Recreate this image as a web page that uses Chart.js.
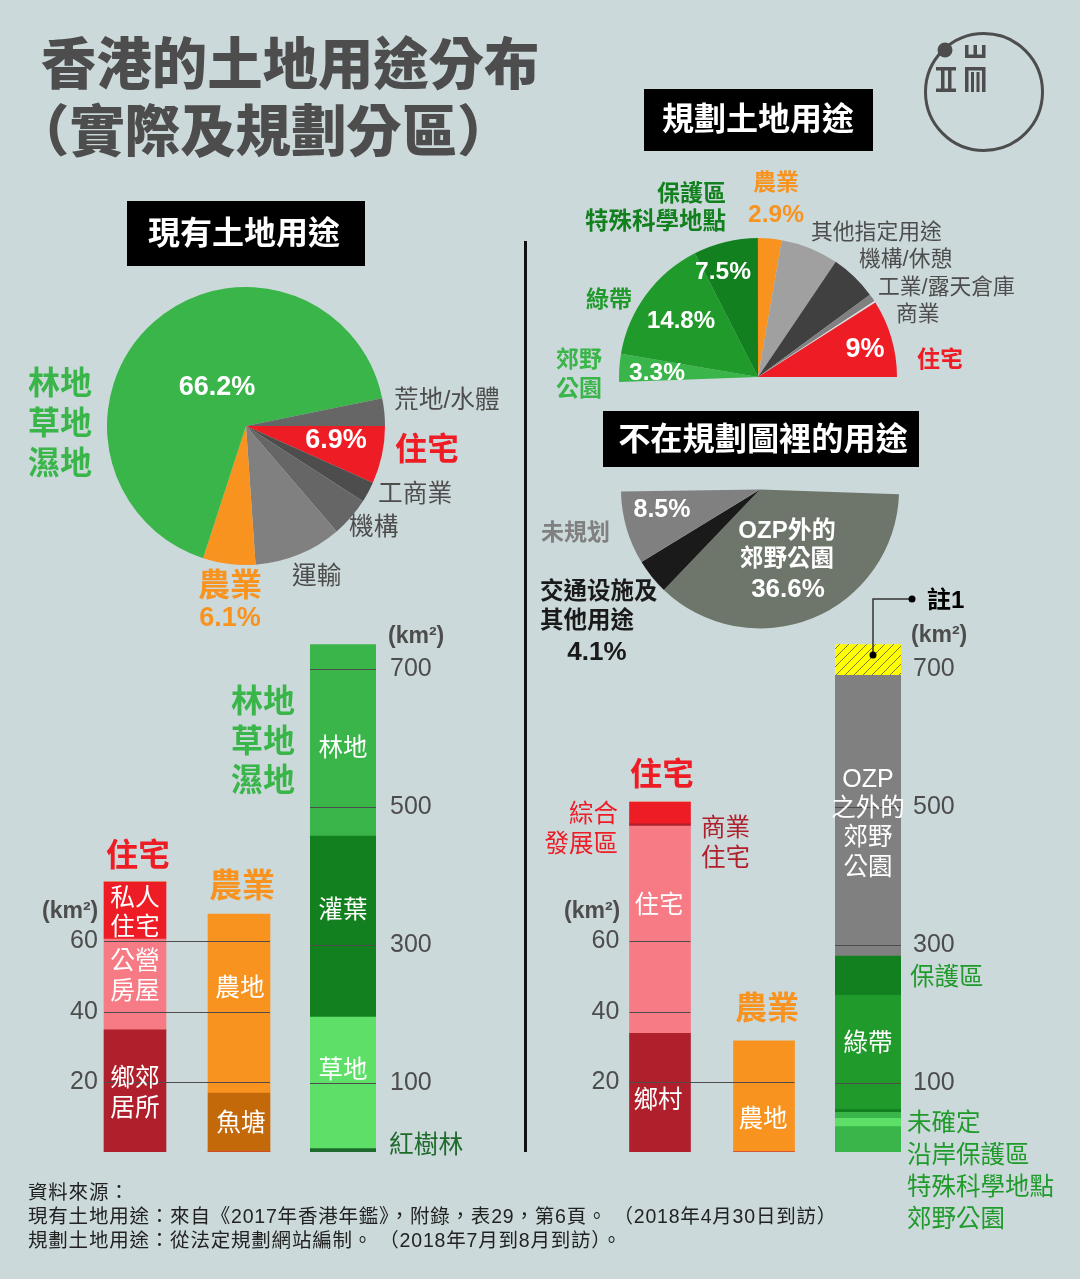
<!DOCTYPE html>
<html>
<head>
<meta charset="utf-8">
<script src="https://cdn.jsdelivr.net/npm/chart.js@4/dist/chart.umd.min.js"></script>
<style>
body { margin: 0; width: 1080px; height: 1279px; background: #ccd9da; position: relative; overflow: hidden;
  font-family: "Liberation Sans", "Noto Sans CJK TC", sans-serif; }
canvas, svg, .t, .box { position: absolute; }
.t { line-height: 1; white-space: nowrap; }
.box { background: #000; }
</style>
</head>
<body>
<script>
// current land use pie, clockwise from 3 o'clock (share of land, %)
var currentLabels = ['住宅', '工商業', '機構', '運輸', '農業', '林地草地濕地', '荒地/水體'];
var currentShares = [6.7, 2.4, 4.6, 10.2, 6.1, 66.8, 3.2];
var currentColors = ['#ee1c25', '#4d4d4d', '#666666', '#808080', '#f7931e', '#3ab54a', '#666666'];

// planned land use half pie, clockwise from just below 9 o'clock
var plannedLabels = ['郊野公園', '綠帶', '保護區/特殊科學地點', '農業', '其他指定用途', '機構/休憩', '工業/露天倉庫', '商業', '住宅'];
var plannedShares = [3.25, 14.8, 7.5, 2.75, 6.7, 5.45, 0.9, 0.2, 9];
var plannedColors = ['#3ab54a', '#1f9a2b', '#12801e', '#f7931e', '#a0a0a0', '#404040', '#808080', '#dddddd', '#ee1c25'];

// land outside the plans, clockwise from just below 3 o'clock
var outsideLabels = ['OZP外的郊野公園', '交通设施及其他用途', '未規划'];
var outsideShares = [36.6, 4.1, 8.5];
var outsideColors = ['#6e766c', '#1a1a1a', '#808080'];

// current land use bars (km2)
var currentPair = ['住宅', '農業'];
var ruralHousing = [34.8, 0];
var publicHousing = [25.9, 0];
var privateHousing = [16.2, 0];
var fishPonds = [0, 16.8];
var farmland = [0, 51];
var pairTicks = [20, 40, 60];

var nature = ['林地草地濕地'];
var mangrove = [5];
var grassland = [190.5];
var shrubland = [262.5];
var woodland = [277.5];
var largeTicks = [100, 300, 500, 700];

// planned land use bars (km2)
var plannedPair = ['住宅', '農業'];
var villages = [33.8, 0];
var residential = [59.1, 0];
var commercialHousing = [0.6, 0];
var comprehensive = [6.2, 0];
var plannedFarmland = [0, 31.7];

var plannedAll = ['全部'];
var countryParks = [36.7];
var scientificSites = [12.1];
var coastal = [8.6];
var undetermined = [4.3];
var greenBelt = [165.3];
var conservation = [56.8];
var outsideOzp = [407];
var note1 = [44.6];

var TICK_COLOR = '#4d4d4d';

function addCanvas(left, top, w, h) {
    var c = document.createElement('canvas');
    c.width = w;
    c.height = h;
    c.style.left = left + 'px';
    c.style.top = top + 'px';
    document.body.appendChild(c);
    return c;
}

function pie(left, top, w, h, labels, shares, colors, rotation) {
    var total = shares.reduce(function (a, b) { return a + b; }, 0);
    new Chart(addCanvas(left, top, w, h), {
        type: 'pie',
        data: { labels: labels, datasets: [{ data: shares, backgroundColor: colors, borderWidth: 0 }] },
        options: {
            responsive: false,
            animation: false,
            events: [],
            rotation: rotation,
            circumference: total >= 99 ? 360 : total * 3.6,
            plugins: { legend: { display: false }, tooltip: { enabled: false } }
        }
    });
}

// short dark lines at each tick, only across the bars that reach it
var tickLines = {
    id: 'tickLines',
    afterDatasetsDraw: function (chart) {
        var c = chart.ctx, y = chart.scales.y, sets = chart.data.datasets, bars = chart.getDatasetMeta(0).data;
        var skip = chart.options.plugins.tickLines.skip || [];
        y.ticks.forEach(function (t) {
            if (skip.indexOf(t.value) >= 0) return;
            var from = null, to = null;
            bars.forEach(function (b, i) {
                var total = 0;
                sets.forEach(function (s) { total += s.data[i]; });
                if (total >= t.value) {
                    if (from === null) from = b.x - b.width / 2;
                    to = b.x + b.width / 2;
                }
            });
            if (from === null) return;
            var py = Math.round(y.getPixelForValue(t.value)) + 0.5;
            c.save();
            c.strokeStyle = TICK_COLOR;
            c.lineWidth = 1;
            c.beginPath();
            c.moveTo(from, py);
            c.lineTo(to, py);
            c.stroke();
            c.restore();
        });
    }
};

// the scale adds tick padding plus half a label above and below the plot, so
// the canvas grows by that margin to keep the plot 512px tall from y=640
function bars(left, w, cats, sets, yMax, ticks, side, axisWidth, pad, thickness, skip) {
    var margin = Math.max(pad + 15, 0);
    new Chart(addCanvas(left, 640 - margin, w, 512 + margin * 2), {
        type: 'bar',
        data: { labels: cats, datasets: sets.map(function (s) {
            return { data: s[0], backgroundColor: s[1], borderWidth: 0, barThickness: thickness };
        }) },
        options: {
            responsive: false,
            animation: false,
            events: [],
            layout: { autoPadding: false },
            scales: {
                x: { stacked: true, display: false },
                y: {
                    stacked: true,
                    position: side,
                    min: 0,
                    max: yMax,
                    grid: { display: false, drawTicks: false },
                    border: { display: false },
                    afterBuildTicks: function (a) { a.ticks = ticks.map(function (v) { return { value: v }; }); },
                    afterFit: function (a) { a.width = axisWidth; },
                    ticks: { padding: pad, mirror: side === 'left', autoSkip: false, color: TICK_COLOR, font: { family: 'Liberation Sans', size: 25 } }
                }
            },
            plugins: { legend: { display: false }, tooltip: { enabled: false }, tickLines: { skip: skip } }
        },
        plugins: [tickLines]
    });
}

function hatch() {
    var p = document.createElement('canvas');
    p.width = 9;
    p.height = 9;
    var c = p.getContext('2d');
    c.fillStyle = '#ffff00';
    c.fillRect(0, 0, 9, 9);
    c.strokeStyle = '#5a5a3a';
    c.lineWidth = 0.8;
    c.beginPath();
    c.moveTo(-2, 11); c.lineTo(11, -2);
    c.moveTo(-2, 2); c.lineTo(2, -2);
    c.moveTo(7, 11); c.lineTo(11, 7);
    c.stroke();
    return c.createPattern(p, 'repeat');
}

pie(107, 287, 278, 278, currentLabels, currentShares, currentColors, 90);
pie(619, 238, 278, 144, plannedLabels, plannedShares, plannedColors, -92);
pie(621, 489, 278, 140, outsideLabels, outsideShares, outsideColors, 92);

bars(63, 228, currentPair, [
    [ruralHousing, '#af202c'], [publicHousing, '#f77b85'], [privateHousing, '#ee1c25'],
    [fishPonds, '#c4690a'], [farmland, '#f7931e']
], 145.9, pairTicks, 'left', 20, -13, 62);

bars(310, 136, nature, [
    [mangrove, '#1f6b2d'], [grassland, '#5ee068'], [shrubland, '#12801e'], [woodland, '#3ab54a']
], 742, largeTicks, 'right', 70, 14, 66);

bars(588, 228, plannedPair, [
    [villages, '#af202c'], [residential, '#f77b85'], [commercialHousing, '#af202c'], [comprehensive, '#ee1c25'],
    [plannedFarmland, '#f7931e']
], 145.9, pairTicks, 'left', 20, -16.5, 61);

bars(835, 136, plannedAll, [
    [countryParks, '#3ab54a'], [scientificSites, '#5ee068'], [coastal, '#3ab54a'], [undetermined, '#12801e'],
    [greenBelt, '#1f9a2b'], [conservation, '#12801e'], [outsideOzp, '#808080'], [note1, hatch()]
], 742, largeTicks, 'right', 70, 12, 66, [700]);

// black header boxes: left, top, width, height
[[127, 201, 238, 65], [644, 89, 229, 62], [603, 411, 316, 56]].forEach(function (b) {
    var d = document.createElement('div');
    d.className = 'box';
    d.style.cssText = 'left:' + b[0] + 'px;top:' + b[1] + 'px;width:' + b[2] + 'px;height:' + b[3] + 'px';
    document.body.appendChild(d);
});

// logo, centre divider, note 1 leader line
document.body.insertAdjacentHTML('beforeend',
    '<svg width="1080" height="1279" style="left:0;top:0" fill="#4d4d4d">' +
    '<rect x="524" y="241" width="3" height="911" fill="#111"/>' +
    '<circle cx="984" cy="92" r="58.5" fill="none" stroke="#4d4d4d" stroke-width="3"/>' +
    '<circle cx="945" cy="50" r="7.5"/>' +
    '<path d="M936 67h20v3.5h-20zM936 88.5h20v3.5h-20zM941 70h3.5v19h-3.5zM948 70h3.5v19h-3.5z"/>' +
    '<path d="M965 45h3.5v9.5h5v-9.5h3.5v9.5h5v-9.5h3.5v13h-20.500zM965 67h20.500v3.500h-20.500zM965 70h3.500v22h-3.500zM971 72h3v20h-3zM976.500 72h3v20h-3zM982 70h3.500v22h-3.500z"/>' +
    '<path d="M873 655V599H912" fill="none" stroke="#333" stroke-width="1.5"/>' +
    '<circle cx="873" cy="655" r="3.5" fill="#000"/><circle cx="912" cy="599" r="3.5" fill="#000"/>' +
    '</svg>');

var GREEN = '#3ab54a', RED = '#ee1c25', ORANGE = '#f7931e', GREY = '#4d4d4d', WHITE = '#ffffff', DARK = '#12801e', MID = '#1f9a2b', WINE = '#af202c';

// text, x, centre y, size, colour, weight (0 regular, 1 bold, 2 black), anchor (l/c/r), letter spacing
var notes = [
    ['香港的土地用途分布', 41, 66, 55.4, GREY, 2, 'l'],
    ['（實際及規劃分區）', 14, 133, 55.4, GREY, 2, 'l'],
    ['現有土地用途', 244, 233, 32, WHITE, 1, 'c'],
    ['規劃土地用途', 758, 119, 32, WHITE, 1, 'c'],
    ['不在規劃圖裡的用途', 763, 439, 32.2, WHITE, 1, 'c'],

    ['林地', 28, 383, 32, GREEN, 1, 'l'], ['草地', 28, 423, 32, GREEN, 1, 'l'], ['濕地', 28, 463, 32, GREEN, 1, 'l'],
    ['66.2%', 217, 386, 27, WHITE, 1, 'c'],
    ['荒地/水體', 394, 400, 24.7, GREY, 0, 'l'],
    ['6.9%', 336, 439, 27, WHITE, 1, 'c'],
    ['住宅', 395, 449, 32, RED, 1, 'l'],
    ['工商業', 378, 494, 24.7, GREY, 0, 'l'],
    ['機構', 349, 527, 24.7, GREY, 0, 'l'],
    ['運輸', 292, 576, 24.7, GREY, 0, 'l'],
    ['農業', 198, 585, 32, ORANGE, 1, 'l'],
    ['6.1%', 230, 617, 27, ORANGE, 1, 'c'],

    ['(km²)', 388, 635, 23, GREY, 1, 'l'],
    ['林地', 231, 701, 32, GREEN, 1, 'l'], ['草地', 231, 741, 32, GREEN, 1, 'l'], ['濕地', 231, 780, 32, GREEN, 1, 'l'],
    ['林地', 343, 748, 24.5, WHITE, 0, 'c'], ['灌葉', 343, 910, 24.5, WHITE, 0, 'c'], ['草地', 343, 1070, 24.5, WHITE, 0, 'c'],
    ['紅樹林', 389, 1145, 24.7, '#1f6b2d', 0, 'l'],
    ['住宅', 106, 855, 32, RED, 1, 'l'],
    ['私人', 135, 898, 24.7, WHITE, 0, 'c'], ['住宅', 135, 927, 24.7, WHITE, 0, 'c'],
    ['公營', 135, 961, 24.7, WHITE, 0, 'c'], ['房屋', 135, 991, 24.7, WHITE, 0, 'c'],
    ['鄉郊', 135, 1078, 24.7, WHITE, 0, 'c'], ['居所', 135, 1108, 24.7, WHITE, 0, 'c'],
    ['農業', 209, 885, 33, ORANGE, 1, 'l'],
    ['農地', 240, 988, 24.7, WHITE, 0, 'c'], ['魚塘', 241, 1123, 24.7, WHITE, 0, 'c'],
    ['(km²)', 42, 910, 23, GREY, 1, 'l'],

    ['保護區', 726, 193, 23, DARK, 1, 'r'],
    ['特殊科學地點', 726, 222, 23.5, DARK, 1, 'r'],
    ['農業', 776, 182, 23, ORANGE, 1, 'c'],
    ['2.9%', 776, 214, 24.5, ORANGE, 1, 'c'],
    ['其他指定用途', 811, 232, 21.8, GREY, 0, 'l'],
    ['機構/休憩', 859, 259, 21.8, GREY, 0, 'l'],
    ['工業/露天倉庫', 878, 287, 21.8, GREY, 0, 'l'],
    ['商業', 896, 314, 21.8, GREY, 0, 'l'],
    ['綠帶', 586, 299, 23, MID, 1, 'l'],
    ['郊野', 556, 359, 23, GREEN, 1, 'l'], ['公園', 556, 388, 23, GREEN, 1, 'l'],
    ['7.5%', 723, 271, 24.5, WHITE, 1, 'c'],
    ['14.8%', 681, 320, 24, WHITE, 1, 'c'],
    ['3.3%', 657, 372, 24.5, WHITE, 1, 'c'],
    ['9%', 865, 348, 27, WHITE, 1, 'c'],
    ['住宅', 917, 359, 23, RED, 1, 'l'],

    ['8.5%', 662, 508, 25, WHITE, 1, 'c'],
    ['未規划', 541, 532, 23, '#808080', 1, 'l'],
    ['OZP外的', 787, 530, 24, WHITE, 1, 'c'],
    ['郊野公園', 787, 559, 23.5, WHITE, 1, 'c'],
    ['36.6%', 788, 588, 26, WHITE, 1, 'c'],
    ['交通设施及', 540, 592, 23.5, '#1a1a1a', 1, 'l'],
    ['其他用途', 540, 621, 23.5, '#1a1a1a', 1, 'l'],
    ['4.1%', 597, 651, 26, '#1a1a1a', 1, 'c'],

    ['註1', 927, 600, 24, '#000000', 1, 'l'],
    ['(km²)', 911, 634, 23, GREY, 1, 'l'],
    ['住宅', 630, 774, 32, RED, 1, 'l'],
    ['綜合', 618, 814, 24.5, RED, 0, 'r'], ['發展區', 618, 844, 24.5, RED, 0, 'r'],
    ['商業', 701, 828, 24.5, WINE, 0, 'l'], ['住宅', 701, 858, 24.5, WINE, 0, 'l'],
    ['住宅', 659, 905, 24.5, WHITE, 0, 'c'], ['鄉村', 658, 1100, 24.5, WHITE, 0, 'c'],
    ['(km²)', 564, 910, 23, GREY, 1, 'l'],
    ['農業', 735, 1008, 32, ORANGE, 1, 'l'],
    ['農地', 763, 1119, 24.5, WHITE, 0, 'c'],
    ['OZP', 868, 778, 25, WHITE, 0, 'c'], ['之外的', 868, 808, 24.5, WHITE, 0, 'c'],
    ['郊野', 868, 837, 24.5, WHITE, 0, 'c'], ['公園', 868, 867, 24.5, WHITE, 0, 'c'],
    ['綠帶', 868, 1043, 24.5, WHITE, 0, 'c'],
    ['保護區', 910, 977, 24.5, MID, 0, 'l'],
    ['未確定', 907, 1123, 24.5, MID, 0, 'l'],
    ['沿岸保護區', 907, 1155, 24.5, MID, 0, 'l'],
    ['特殊科學地點', 907, 1187, 24.5, MID, 0, 'l'],
    ['郊野公園', 907, 1219, 24.5, MID, 0, 'l'],

    ['資料來源：', 28, 1193, 19.5, '#222222', 0, 'l', 0.8],
    ['現有土地用途：來自《2017年香港年鑑》，附錄，表29，第6頁。 （2018年4月30日到訪）', 28, 1217, 19.5, '#222222', 0, 'l', 0.8],
    ['規劃土地用途：從法定規劃網站編制。 （2018年7月到8月到訪）。', 28, 1241, 19.5, '#222222', 0, 'l', 0.8]
];

var shift = { l: '0', c: '-50%', r: '-100%' };
var weights = ['400', '700', '900'];
notes.forEach(function (n) {
    var d = document.createElement('div');
    d.className = 't';
    d.textContent = n[0];
    d.style.left = n[1] + 'px';
    d.style.top = n[2] + 'px';
    d.style.fontSize = n[3] + 'px';
    d.style.color = n[4];
    d.style.fontWeight = weights[n[5]];
    d.style.transform = 'translate(' + shift[n[6]] + ',-50%)';
    if (n[7]) d.style.letterSpacing = n[7] + 'px';
    document.body.appendChild(d);
});
</script>
</body>
</html>
